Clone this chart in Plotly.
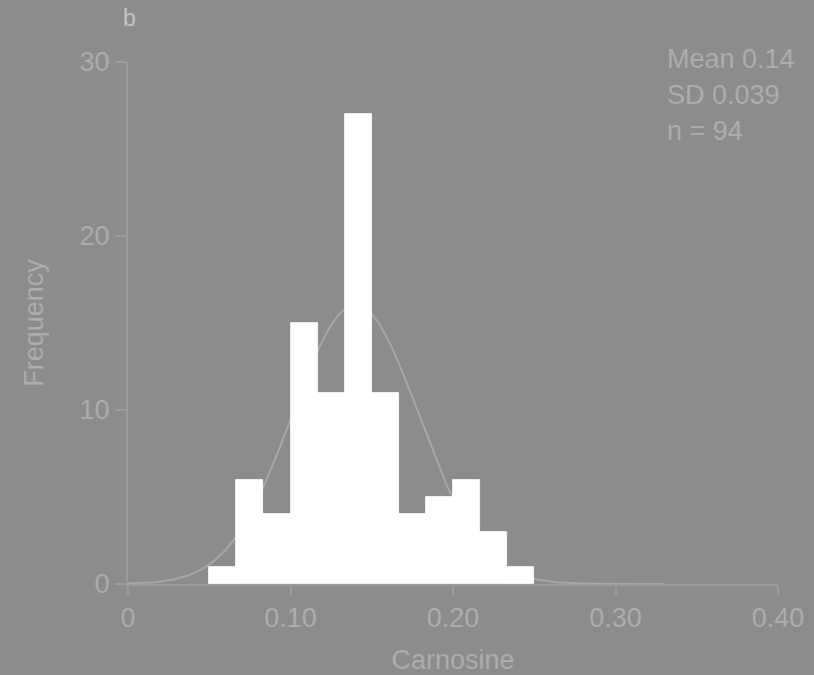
import numpy as np
import plotly.graph_objects as go

# Histogram data (bin width = 0.2/12)
bin_left = [0.05, 0.066667, 0.083333, 0.10, 0.116667, 0.133333,
            0.15, 0.166667, 0.183333, 0.20, 0.216667, 0.233333]
counts = [1, 6, 4, 15, 11, 27, 11, 4, 5, 6, 3, 1]
bin_width = 0.2 / 12

mean_val = 0.14
sd_val = 0.039
n_val = 94

x_ticks = [0, 0.10, 0.20, 0.30, 0.40]
x_tick_labels = ["0", "0.10", "0.20", "0.30", "0.40"]
y_ticks = [0, 10, 20, 30]

BG = "#8c8c8c"
TXT = "#adadad"
AX = "#9c9c9c"
FONT = "Liberation Sans"

# fitted normal curve (scaled to counts)
xc = np.linspace(0.0, 0.33, 200)
yc = n_val * bin_width * np.exp(-0.5 * ((xc - mean_val) / sd_val) ** 2) / (sd_val * np.sqrt(2 * np.pi))

fig = go.Figure()
# curve on base axes (drawn below)
fig.add_trace(go.Scatter(x=xc, y=yc, mode="lines", xaxis="x", yaxis="y",
                         line=dict(color="#a8a8a8", width=2), hoverinfo="skip"))
# bars on overlaying axes (drawn on top of the curve)
fig.add_trace(go.Bar(x=[b + bin_width / 2 for b in bin_left], y=counts, width=bin_width,
                     xaxis="x2", yaxis="y2",
                     marker=dict(color="white", line=dict(color="white", width=0.8))))

fig.update_layout(
    width=814, height=675,
    paper_bgcolor=BG, plot_bgcolor=BG,
    showlegend=False,
    bargap=0,
    margin=dict(l=128, r=36, t=62, b=91, autoexpand=False),
    font=dict(family=FONT, color=TXT, size=20),
    xaxis=dict(range=[0, 0.40], tickvals=x_ticks, ticktext=x_tick_labels,
               showline=True, linecolor=AX, linewidth=2, ticks="outside", ticklen=9,
               tickcolor=AX, tickwidth=2, showgrid=False, zeroline=False, automargin=False,
               tickfont=dict(size=27, color=TXT),
               title=dict(text="Carnosine", font=dict(size=27, color=TXT), standoff=18)),
    yaxis=dict(range=[0, 30], tickvals=y_ticks,
               showline=True, linecolor=AX, linewidth=2, ticks="outside", ticklen=11,
               tickcolor=AX, tickwidth=2, showgrid=False, zeroline=False, automargin=False,
               tickfont=dict(size=27, color=TXT),
               title=dict(text="Frequency", font=dict(size=27, color=TXT), standoff=28)),
    xaxis2=dict(range=[0, 0.40], overlaying="x", visible=False, anchor="y2"),
    yaxis2=dict(range=[0, 30], overlaying="y", visible=False, anchor="x2"),
)

stats_lines = [f"Mean {mean_val}", f"SD {sd_val}", f"n = {n_val}"]
for i, t in enumerate(stats_lines):
    fig.add_annotation(text=t, xref="paper", yref="paper", x=(665 - 128) / 650,
                       y=(584 - (59 + 36 * i)) / 522, xanchor="left", yanchor="middle",
                       showarrow=False, font=dict(size=27, color=TXT))
fig.add_annotation(text="b", xref="paper", yref="paper", x=(129 - 128) / 650,
                   y=(584 - 18) / 522, xanchor="center", yanchor="middle", showarrow=False,
                   font=dict(size=23, color="#c4c4c4"))

fig.write_html("out.html")
